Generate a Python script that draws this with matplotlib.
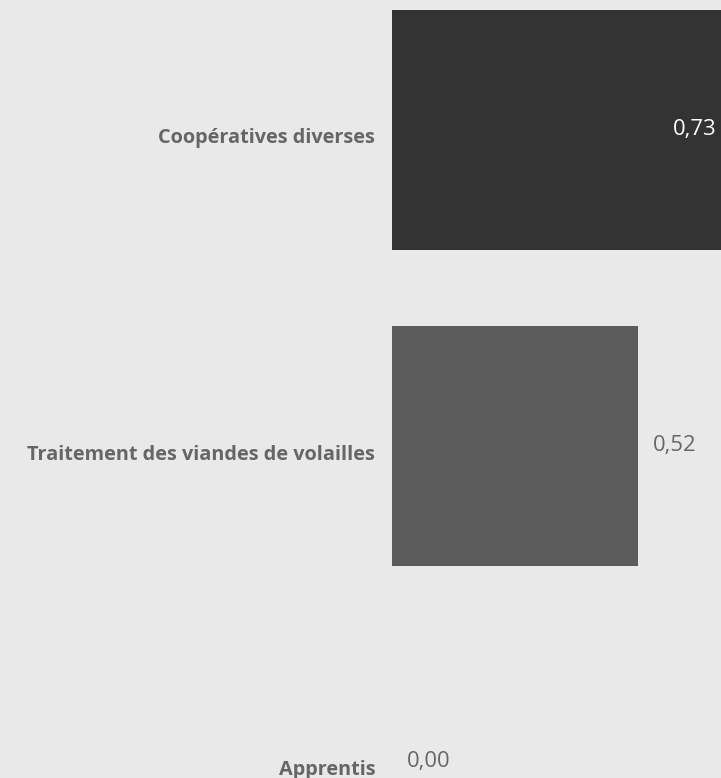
import matplotlib
matplotlib.use("Agg")
import matplotlib.pyplot as plt
import matplotlib.transforms as mtransforms

plt.rcParams['font.family'] = ['Open Sans', 'DejaVu Sans']

categories = ['Coopératives diverses', 'Traitement des viandes de volailles', 'Apprentis']
values = [0.73, 0.52, 0.00]
bar_colors = ['#333333', '#5c5c5c', '#5c5c5c']

bg = '#e9e9e9'
text_color = '#666666'

fig = plt.figure(figsize=(7.21, 7.78), dpi=100, facecolor=bg)
ax = fig.add_axes([392 / 721, 0, 329 / 721, 1])
ax.set_facecolor(bg)

y = list(range(len(categories)))
ax.barh(y, values, height=0.76, color=bar_colors)

x_max = 0.696
ax.set_xlim(0, x_max)
ax.set_ylim(-130 / 316 + 778 / 316, -130 / 316)

ax.set_yticks(y)
ax.set_yticklabels(categories, fontsize=14.3, fontweight='bold', color=text_color)
ax.tick_params(axis='y', length=0, pad=12)
ax.set_xticks([])
for s in ax.spines.values():
    s.set_visible(False)

# les libellés de catégorie sont un peu plus bas que le centre des barres
shift = mtransforms.ScaledTranslation(0, -6 / 100, fig.dpi_scale_trans)
for lbl in ax.get_yticklabels():
    lbl.set_transform(lbl.get_transform() + shift)

for yi, v in zip(y, values):
    label = f"{v:.2f}".replace('.', ',')
    if v > x_max:
        ax.annotate(label, (x_max, yi), xytext=(-3, 0), textcoords='offset points',
                    ha='right', va='center', fontsize=15.8, color='white')
    else:
        ax.annotate(label, (v, yi), xytext=(11, 0), textcoords='offset points',
                    ha='left', va='center', fontsize=15.8, color=text_color)

fig.savefig('out.png', dpi=100, facecolor=bg)
